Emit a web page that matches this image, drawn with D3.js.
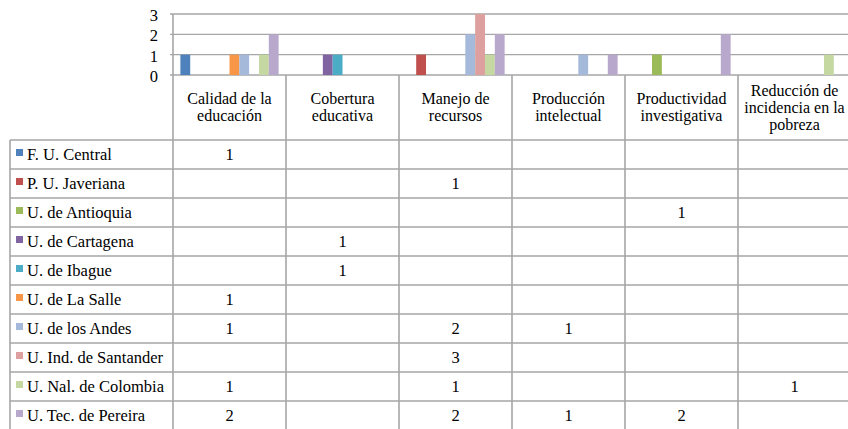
<!DOCTYPE html>
<html>
<head>
<meta charset="utf-8">
<script src="https://cdn.jsdelivr.net/npm/d3@7"></script>
<style>
  html, body { margin: 0; padding: 0; background: #fff; }
  svg { display: block; }
</style>
</head>
<body>
<svg id="chart" width="848" height="429"></svg>
<script>
const categories = [
  ["Calidad de la", "educación"],
  ["Cobertura", "educativa"],
  ["Manejo de", "recursos"],
  ["Producción", "intelectual"],
  ["Productividad", "investigativa"],
  ["Reducción de", "incidencia en la", "pobreza"]
];
const seriesNames = [
  "F. U. Central", "P. U. Javeriana", "U. de Antioquia", "U. de Cartagena",
  "U. de Ibague", "U. de La Salle", "U. de los Andes", "U. Ind. de Santander",
  "U. Nal. de Colombia", "U. Tec. de Pereira"
];
const seriesColors = [
  "#4F81BD", "#C0504D", "#9BBB59", "#8064A2", "#4BACC6",
  "#F79646", "#A5B9DB", "#DDA09E", "#C6D8A2", "#B8A9CC"
];
const values = [
  [1, null, null, null, null, null],
  [null, null, 1, null, null, null],
  [null, null, null, null, 1, null],
  [null, 1, null, null, null, null],
  [null, 1, null, null, null, null],
  [1, null, null, null, null, null],
  [1, null, 2, 1, null, null],
  [null, null, 3, null, null, null],
  [1, null, 1, null, null, 1],
  [2, null, 2, 1, 2, null]
];
const yTicks = [0, 1, 2, 3];

const FONT = "Liberation Serif";
const svg = d3.select("#chart");
const gridColor = "#a6a6a6";
const plotLeft = 173, plotRight = 851, plotTop = 14, plotBottom = 75;
const tableLeft = 10, headerBottom = 140, rowH = 29;

const x = d3.scaleBand().domain(d3.range(categories.length)).range([plotLeft, plotRight]).paddingInner(0).paddingOuter(0);
const xs = d3.scaleBand().domain(d3.range(seriesNames.length)).range([0, x.bandwidth()]).paddingInner(0).paddingOuter(0.75);
const y = d3.scaleLinear().domain([0, 3]).range([plotBottom, plotTop]);

function styleText(sel, size) {
  return sel.style("font-family", FONT).style("font-size", (size || 16.5) + "px").style("fill", "#000");
}

// gridlines
svg.append("g").selectAll("line").data(yTicks).join("line")
  .attr("x1", plotLeft - 3).attr("x2", plotRight)
  .attr("y1", d => y(d)).attr("y2", d => y(d))
  .attr("stroke", gridColor).attr("stroke-width", 1.3);

// y axis labels
const yAxis = d3.axisLeft(y).tickValues(yTicks).tickSize(0).tickPadding(15).tickFormat(d3.format("d"));
const yg = svg.append("g").attr("transform", `translate(${plotLeft},0)`).call(yAxis);
yg.select(".domain").remove();
styleText(yg.selectAll("text")).attr("dy", "0.4em");

// bars
const barData = [];
values.forEach((row, s) => row.forEach((v, c) => { if (v != null) barData.push({s, c, v}); }));
svg.append("g").selectAll("rect").data(barData).join("rect")
  .attr("x", d => x(d.c) + xs(d.s))
  .attr("width", xs.bandwidth())
  .attr("y", d => y(d.v))
  .attr("height", d => y(0) - y(d.v))
  .attr("fill", d => seriesColors[d.s]);

// table lines
const tbl = svg.append("g").attr("stroke", gridColor).attr("stroke-width", 1.6);
const tableBottom = headerBottom + rowH * seriesNames.length;
const bounds = categories.map((c, i) => x(i)).concat([plotRight]);
tbl.selectAll("line.v").data(bounds).join("line").attr("class", "v")
  .attr("x1", d => d).attr("x2", d => d)
  .attr("y1", (d, i) => i === 0 ? plotTop : plotBottom)
  .attr("y2", tableBottom);
tbl.append("line").attr("x1", tableLeft).attr("x2", tableLeft).attr("y1", headerBottom).attr("y2", tableBottom);
const rowLines = d3.range(seriesNames.length + 1).map(i => headerBottom + i * rowH);
tbl.selectAll("line.h").data(rowLines).join("line").attr("class", "h")
  .attr("x1", tableLeft).attr("x2", plotRight)
  .attr("y1", d => d).attr("y2", d => d);

// header text
const hdr = svg.append("g");
categories.forEach((lines, i) => {
  const cx = x(i) + x.bandwidth() / 2;
  const lh = 17;
  const mid = (plotBottom + headerBottom) / 2;
  const first = mid - (lines.length - 1) * lh / 2 + 5;
  lines.forEach((ln, j) => {
    styleText(hdr.append("text"), 16).attr("x", cx).attr("y", first + j * lh)
      .attr("text-anchor", "middle").text(ln);
  });
});

// row labels with legend keys
const rows = svg.append("g");
seriesNames.forEach((name, s) => {
  const top = headerBottom + s * rowH;
  rows.append("rect").attr("x", 16).attr("y", top + 9).attr("width", 7).attr("height", 7).attr("fill", seriesColors[s]);
  styleText(rows.append("text")).attr("x", 27).attr("y", top + 19.5).text(name);
  values[s].forEach((v, c) => {
    if (v != null) {
      styleText(rows.append("text")).attr("x", x(c) + x.bandwidth() / 2).attr("y", top + 19.5)
        .attr("text-anchor", "middle").text(v);
    }
  });
});
</script>
</body>
</html>
